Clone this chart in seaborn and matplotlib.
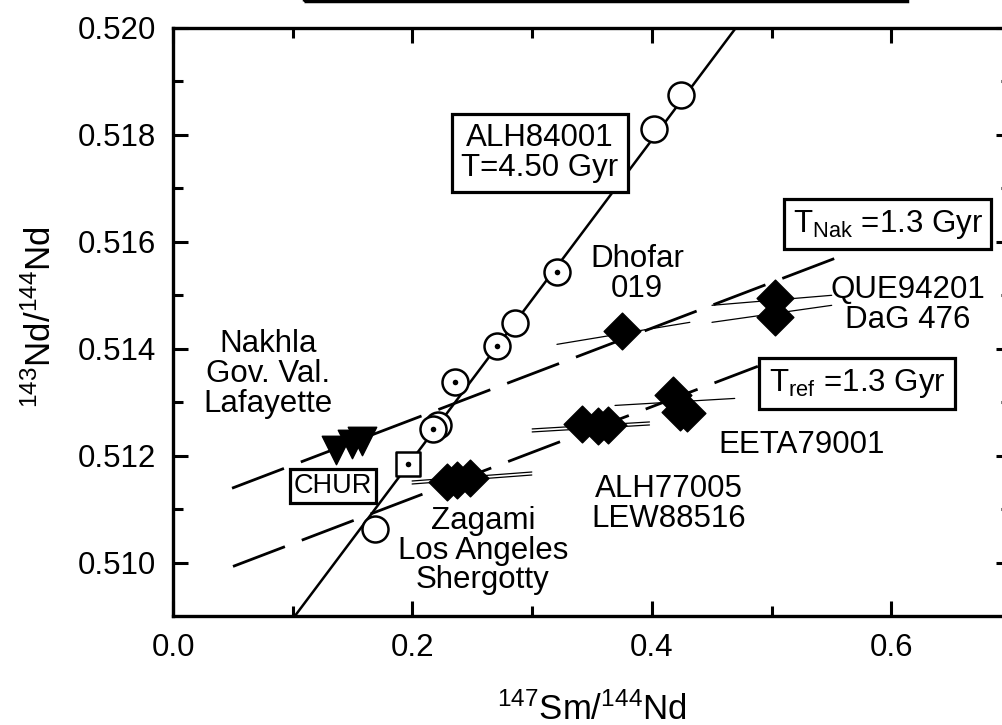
import numpy as np
import pandas as pd
import matplotlib
matplotlib.use("Agg")
import matplotlib.pyplot as plt
from matplotlib.patches import Rectangle
from matplotlib.ticker import FormatStrFormatter
import seaborn as sns

LAMBDA_SM = 6.54e-12  # 147Sm decay constant (1/yr)

# ALH84001 fractions (open circles); dotted ones carry a centre dot
alh_x = [0.1687, 0.2213, 0.2171, 0.2355, 0.2706, 0.2856, 0.3207, 0.4017, 0.4242]
alh_y = [0.51062, 0.51257, 0.51249, 0.51337, 0.51406, 0.51449, 0.51543, 0.51811, 0.51875]
alh_dot = [False, False, True, True, True, False, True, False, False]

# chondritic reference
chur_x = [0.1962]
chur_y = [0.51185]

# nakhlites (filled down triangles)
nak_x = [0.1361, 0.1495, 0.1578]
nak_y = [0.51210, 0.51221, 0.51227]

# shergottites (filled diamonds)
sher_group = ["Zagami", "Zagami", "Zagami",
              "ALH77005", "ALH77005", "ALH77005",
              "EETA79001", "EETA79001", "EETA79001",
              "Dhofar 019", "QUE94201", "DaG 476"]
sher_x = [0.2288, 0.2372, 0.2480, 0.3415, 0.3549, 0.3633,
          0.4175, 0.4234, 0.4292, 0.3749, 0.5027, 0.5027]
sher_y = [0.51150, 0.51154, 0.51159, 0.51260, 0.51255, 0.51258,
          0.51313, 0.51281, 0.51279, 0.51434, 0.51494, 0.51459]

# internal mineral isochrons through the shergottites (thin lines)
int_x = [0.2497, 0.2497, 0.3490, 0.3490, 0.4192, 0.5002, 0.5002, 0.3762]
int_y = [0.511610, 0.511554, 0.512565, 0.512509, 0.513005, 0.514906, 0.514653, 0.514288]
int_slope = [0.00168, 0.00168, 0.00133, 0.00133, 0.00131, 0.00187, 0.00318, 0.00371]
int_half = [0.050, 0.050, 0.049, 0.049, 0.050, 0.050, 0.050, 0.0555]

# whole-rock isochrons: age (Gyr), initial ratio, x-extent
iso_name = ["ALH84001", "Nakhlites", "reference"]
iso_age = [4.50, 1.3, 1.3]
iso_y0 = [0.50596, 0.51097, 0.50950]
iso_xmin = [0.09, 0.0493, 0.0501]
iso_xmax = [0.50, 0.5587, 0.4885]

sns.set_style("ticks")
plt.rcParams["font.family"] = ["Liberation Sans", "DejaVu Sans"]
plt.rcParams["mathtext.fontset"] = "custom"
plt.rcParams["mathtext.rm"] = "Liberation Sans"
plt.rcParams["mathtext.default"] = "regular"
plt.rcParams["text.color"] = "black"
plt.rcParams["axes.labelcolor"] = "black"

fig = plt.figure(figsize=(10.03, 7.25), dpi=100)
ax = fig.add_axes([0.1725, 0.1503, 0.8355, 0.8111])

# isochron lines
dash = (0, (20, 6.5))
for name, age, y0, x0, x1 in zip(iso_name, iso_age, iso_y0, iso_xmin, iso_xmax):
    slope = np.exp(LAMBDA_SM * age * 1e9) - 1
    xs = np.array([x0, x1])
    if name == "ALH84001":
        ax.plot(xs, y0 + slope * xs, color="black", lw=1.8, zorder=2)
    else:
        ax.plot(xs, y0 + slope * xs, color="black", lw=2.0, linestyle=dash, zorder=2)

# thin internal isochrons
for cx, cy, s, h in zip(int_x, int_y, int_slope, int_half):
    xs = np.array([cx - h, cx + h])
    ax.plot(xs, cy + s * (xs - cx), color="black", lw=0.9, zorder=2)

alh = pd.DataFrame({"x": alh_x, "y": alh_y, "dot": alh_dot})
sns.scatterplot(data=alh, x="x", y="y", marker="o", s=350, color="white",
                edgecolor="black", linewidth=1.8, ax=ax, zorder=4)
dots = alh[alh["dot"]]
sns.scatterplot(data=dots, x="x", y="y", marker="o", s=16, color="black",
                edgecolor="black", linewidth=0, ax=ax, zorder=5)

sns.scatterplot(x=chur_x, y=chur_y, marker="s", s=290, color="white",
                edgecolor="black", linewidth=1.8, ax=ax, zorder=4)
sns.scatterplot(x=chur_x, y=chur_y, marker="o", s=16, color="black",
                linewidth=0, ax=ax, zorder=5)

sns.scatterplot(x=nak_x, y=nak_y, marker="v", s=420, color="black",
                edgecolor="black", linewidth=1, ax=ax, zorder=4)

sher = pd.DataFrame({"group": sher_group, "x": sher_x, "y": sher_y})
sns.scatterplot(data=sher, x="x", y="y", marker="D", s=350, color="black",
                edgecolor="black", linewidth=1, ax=ax, zorder=4)

# text labels
fs = 22.5
ax.text(0.0793, 0.51352, "Nakhla\nGov. Val.\nLafayette", fontsize=fs,
        ha="center", va="center", linespacing=1.0)
ax.text(0.3875, 0.51539, "Dhofar\n019", fontsize=fs, ha="center", va="center",
        linespacing=1.0)
ax.text(0.6138, 0.51481, "QUE94201\nDaG 476", fontsize=fs, ha="center",
        va="center", linespacing=1.0)
ax.text(0.5253, 0.51219, "EETA79001", fontsize=fs, ha="center", va="center")
ax.text(0.4142, 0.51110, "ALH77005\nLEW88516", fontsize=fs, ha="center",
        va="center", linespacing=1.0)
ax.text(0.2589, 0.51022, "Zagami\nLos Angeles\nShergotty", fontsize=fs,
        ha="center", va="center", linespacing=0.98, zorder=6)

box = dict(boxstyle="square,pad=0.3", fc="white", ec="black", lw=2.3)
ax.text(0.3065, 0.51766, "ALH84001\nT=4.50 Gyr", fontsize=fs, ha="center",
        va="center", linespacing=1.0, bbox=box, zorder=6)
ax.text(0.5971, 0.51633, r"T$_{Nak}$ =1.3 Gyr", fontsize=fs, ha="center",
        va="center", bbox=dict(boxstyle="square,pad=0.27", fc="white",
                               ec="black", lw=2.3), zorder=6)
ax.text(0.5712, 0.51335, r"T$_{ref}$ =1.3 Gyr", fontsize=fs, ha="center",
        va="center", bbox=box, zorder=6)
ax.text(0.1336, 0.51144, "CHUR", fontsize=19.5, ha="center", va="center",
        bbox=dict(boxstyle="square,pad=0.15", fc="white", ec="black", lw=2.3),
        zorder=6)

ax.set_xlim(0.0, 0.7)
ax.set_ylim(0.509, 0.520)
ax.set_xticks([0.0, 0.2, 0.4, 0.6])
ax.set_xticks([0.1, 0.3, 0.5], minor=True)
ax.set_yticks(np.arange(0.510, 0.5201, 0.002))
ax.set_yticks(np.arange(0.511, 0.5200, 0.002), minor=True)
ax.xaxis.set_major_formatter(FormatStrFormatter("%.1f"))
ax.yaxis.set_major_formatter(FormatStrFormatter("%.3f"))
ax.tick_params(which="both", direction="in", top=True, right=True,
               width=2.2, labelsize=22.5, pad=12, colors="black")
ax.tick_params(which="major", length=11)
ax.tick_params(which="minor", length=7.5)
for sp in ax.spines.values():
    sp.set_linewidth(2.4)
    sp.set_color("black")
ax.grid(False)

ax.set_xlabel(r"$^{147}$Sm/$^{144}$Nd", fontsize=25)
ax.set_ylabel(r"$^{143}$Nd/$^{144}$Nd", fontsize=25)
ax.xaxis.set_label_coords(0.5, -0.130)
ax.yaxis.set_label_coords(-0.137, 0.508)

# bottom edge of the box cut off above the frame
fig.add_artist(Rectangle((304 / 1003, 0.998), 603 / 1003, 0.05,
                         transform=fig.transFigure, fill=False, lw=2.5,
                         ec="black", clip_on=False))

fig.savefig("out.png", dpi=100)
